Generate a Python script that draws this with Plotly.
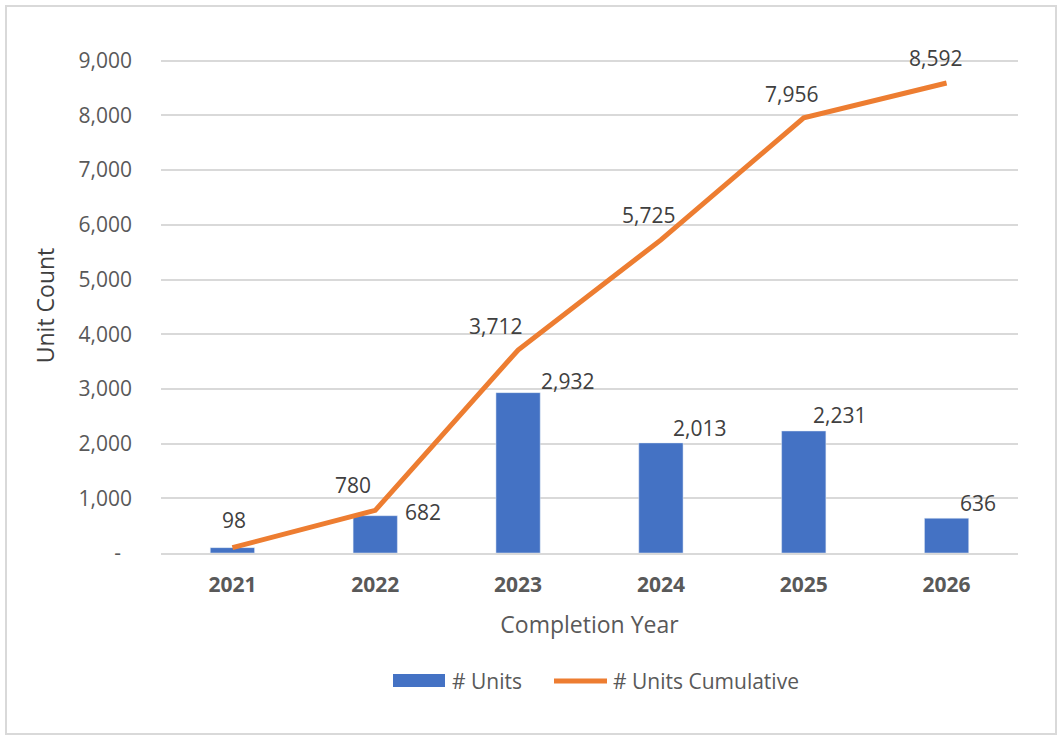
import plotly.graph_objects as go

# Completion years and unit counts
years = ["2021", "2022", "2023", "2024", "2025", "2026"]
units = [98, 682, 2932, 2013, 2231, 636]
units_cumulative = [98, 780, 3712, 5725, 7956, 8592]

y_ticks = [0, 1000, 2000, 3000, 4000, 5000, 6000, 7000, 8000, 9000]
y_tick_text = ["-\u00a0\u00a0"] + [f"{v:,}" for v in y_ticks[1:]]

BLUE = "#4472C4"
ORANGE = "#ED7D31"
TEXT = "#595959"
LABEL = "#404040"
GRID = "#D9D9D9"
FONT = "Open Sans"

W, H = 1060, 736
L, R, T, B = 161, 42, 58, 183
PW, PH = W - L - R, H - T - B


def px_x(px):
    return (px - L) / PW


def px_y(py):
    return (H - B - py) / PH


fig = go.Figure()
fig.add_trace(go.Bar(
    x=years, y=units, name="# Units", marker_color=BLUE,
    width=0.31, showlegend=False,
))
fig.add_trace(go.Scatter(
    x=years, y=units_cumulative, name="# Units Cumulative", mode="lines",
    line=dict(color=ORANGE, width=5), showlegend=False,
))

# Data labels: cumulative above-left of the line, yearly above-right of the bars.
# Category positions are given by index so numeric-looking year strings are not
# mistaken for serial numbers.
cum_shift = [(2, 28), (-22, 25), (-23, 24), (-12, 25), (-12, 24), (-11, 25)]
bar_shift = [None, (48, 4), (49, 12), (39, 15), (36, 16), (31, 15)]
for i, v in enumerate(units_cumulative):
    dx, dy = cum_shift[i]
    fig.add_annotation(x=i, y=v, text=f"{v:,}", showarrow=False,
                       xshift=dx, yshift=dy,
                       font=dict(family=FONT, size=21, color=LABEL))
for i, v in enumerate(units):
    if bar_shift[i] is None:
        continue
    dx, dy = bar_shift[i]
    fig.add_annotation(x=i, y=v, text=f"{v:,}", showarrow=False,
                       xshift=dx, yshift=dy,
                       font=dict(family=FONT, size=21, color=LABEL))

# Legend drawn as swatches plus text
fig.add_shape(type="rect", xref="paper", yref="paper",
              x0=px_x(393), x1=px_x(445), y0=px_y(687), y1=px_y(674),
              fillcolor=BLUE, line=dict(width=0))
fig.add_shape(type="line", xref="paper", yref="paper",
              x0=px_x(554), x1=px_x(607), y0=px_y(681), y1=px_y(681),
              line=dict(color=ORANGE, width=5))
fig.add_annotation(xref="paper", yref="paper", x=px_x(450), y=px_y(681),
                   xanchor="left", yanchor="middle", showarrow=False,
                   text="# Units", font=dict(family=FONT, size=21, color=TEXT))
fig.add_annotation(xref="paper", yref="paper", x=px_x(611), y=px_y(681),
                   xanchor="left", yanchor="middle", showarrow=False,
                   text="# Units Cumulative", font=dict(family=FONT, size=21, color=TEXT))

# Chart border
fig.add_shape(type="rect", xref="paper", yref="paper",
              x0=px_x(6), x1=px_x(1056), y0=px_y(734), y1=px_y(6),
              line=dict(color=GRID, width=2), fillcolor="rgba(0,0,0,0)")

fig.update_layout(
    width=W, height=H,
    margin=dict(l=L, r=R, t=T, b=B),
    paper_bgcolor="white", plot_bgcolor="white",
    font=dict(family=FONT, color=TEXT),
    xaxis=dict(
        type="category", range=[-0.5, 5.5],
        showgrid=False, showline=True, linecolor=GRID, linewidth=2,
        tickfont=dict(family=FONT, size=21, color=TEXT, weight="bold"),
        ticks="", ticklabelstandoff=12,
        title=dict(text="Completion Year", standoff=20,
                   font=dict(family=FONT, size=23, color=TEXT)),
    ),
    yaxis=dict(
        range=[0, 9050], tickvals=y_ticks, ticktext=y_tick_text,
        showgrid=True, gridcolor=GRID, gridwidth=2, zeroline=False,
        showline=False, ticks="", ticklabelstandoff=28,
        tickfont=dict(family=FONT, size=21, color=TEXT),
        title=dict(text="Unit Count", standoff=17,
                   font=dict(family=FONT, size=23, color=LABEL)),
    ),
)

fig.write_html("out.html")
